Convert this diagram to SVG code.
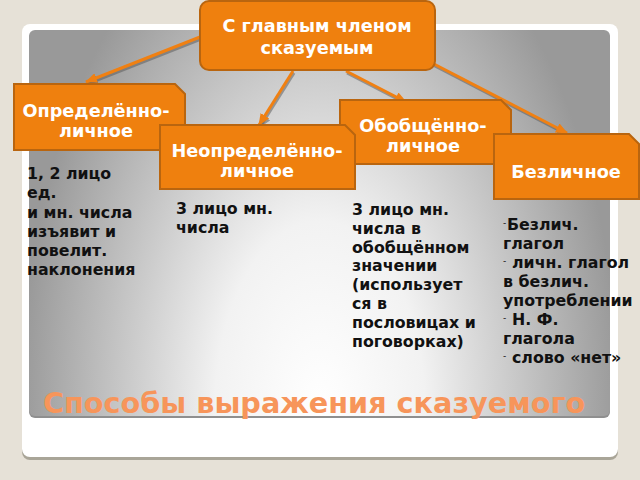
<svg xmlns="http://www.w3.org/2000/svg" width="640" height="480" viewBox="0 0 640 480">
<defs>
<radialGradient id="panelGrad" gradientUnits="userSpaceOnUse" cx="320" cy="410" r="300" gradientTransform="translate(320 410) scale(1 1.8) translate(-320 -410)">
<stop offset="0" stop-color="#ffffff"/>
<stop offset="0.35" stop-color="#f2f2f2"/>
<stop offset="1" stop-color="#999999"/>
</radialGradient>
<marker id="arrow" markerUnits="userSpaceOnUse" markerWidth="12" markerHeight="10" refX="11" refY="5" orient="auto">
<path d="M0,0 L12,5 L0,10 Z" fill="#f08012"/>
</marker>
<marker id="arrowShadow" markerUnits="userSpaceOnUse" markerWidth="12" markerHeight="10" refX="11" refY="5" orient="auto">
<path d="M0,0 L12,5 L0,10 Z" fill="#555" fill-opacity="0.5"/>
</marker>
</defs>
<style>
.node{fill:#ef800e;stroke:#b9650f;stroke-width:2}
.ntxt{font-family:"DejaVu Sans","Noto Sans",sans-serif;font-weight:bold;font-size:17.7px;fill:#ffffff;text-anchor:middle}
.body{font-family:"DejaVu Sans","Noto Sans",sans-serif;font-weight:bold;font-size:15.8px;fill:#111111}
.dash{font-family:"DejaVu Sans","Noto Sans",sans-serif;font-size:9px;fill:#111111}
.conn{stroke:#f08012;stroke-width:3;fill:none;marker-end:url(#arrow)}
.connS{stroke:#555;stroke-opacity:0.5;stroke-width:3;fill:none;marker-end:url(#arrowShadow)}
.title{font-family:"DejaVu Sans","Noto Sans",sans-serif;font-weight:bold;font-size:28.7px;fill:#f7955a}
</style>
<rect x="0" y="0" width="640" height="480" fill="#e6e1d7"/>
<rect x="22" y="27" width="596" height="433" rx="8" fill="#a9a598"/>
<rect x="22" y="24" width="596" height="433" rx="8" fill="#ffffff"/>
<rect x="29" y="32" width="581" height="386" rx="6" fill="#8f8f8f"/>
<rect x="29" y="30" width="581" height="386" rx="6" fill="url(#panelGrad)"/>

<g id="connectors">
<line class="connS" x1="201" y1="39" x2="87" y2="84"/>
<line class="connS" x1="294" y1="73" x2="260" y2="127"/>
<line class="connS" x1="347" y1="73" x2="407" y2="104"/>
<line class="connS" x1="433" y1="65" x2="568" y2="135"/>
<line class="conn" x1="200" y1="37" x2="86" y2="82"/>
<line class="conn" x1="293" y1="71" x2="259" y2="125"/>
<line class="conn" x1="346" y1="71" x2="406" y2="102"/>
<line class="conn" x1="432" y1="63" x2="567" y2="133"/>
</g>

<g id="node-top">
<rect class="node" x="200" y="1" width="235" height="69" rx="9"/>
<text class="ntxt" x="317" y="32">С главным членом</text>
<text class="ntxt" x="317" y="54">сказуемым</text>
</g>

<g id="node-opredelenno">
<path class="node" d="M14,84 H175 L185,94 V150 H14 Z"/>
<text class="ntxt" x="96" y="117">Определённо-</text>
<text class="ntxt" x="96" y="137">личное</text>
</g>

<g id="node-obobshchenno">
<path class="node" d="M340,100 H501 L511,110 V164 H340 Z"/>
<text class="ntxt" x="423" y="132">Обобщённо-</text>
<text class="ntxt" x="423" y="152">личное</text>
</g>

<g id="node-neopredelenno">
<path class="node" d="M160,125 H345 L355,135 V189 H160 Z"/>
<text class="ntxt" x="257" y="157">Неопределённо-</text>
<text class="ntxt" x="257" y="177">личное</text>
</g>

<g id="node-bezlichnoe">
<path class="node" d="M494,134 H629 L639,144 V199 H494 Z"/>
<text class="ntxt" x="566" y="178">Безличное</text>
</g>

<g id="text-opredelenno">
<text class="body" x="27" y="179">1, 2 лицо</text>
<text class="body" x="27" y="198">ед.</text>
<text class="body" x="27" y="218">и мн. числа</text>
<text class="body" x="27" y="237">изъявит и</text>
<text class="body" x="27" y="256">повелит.</text>
<text class="body" x="27" y="275">наклонения</text>
</g>

<g id="text-neopredelenno">
<text class="body" x="176" y="214">3 лицо мн.</text>
<text class="body" x="176" y="233">числа</text>
</g>

<g id="text-obobshchenno">
<text class="body" x="352" y="215">3 лицо мн.</text>
<text class="body" x="352" y="234">числа в</text>
<text class="body" x="352" y="253">обобщённом</text>
<text class="body" x="352" y="271">значении</text>
<text class="body" x="352" y="290">(использует</text>
<text class="body" x="352" y="309">ся в</text>
<text class="body" x="352" y="328">пословицах и</text>
<text class="body" x="352" y="347">поговорках)</text>
</g>

<g id="text-bezlichnoe">
<text class="dash" x="503" y="226">-</text>
<text class="body" x="507" y="230">Безлич.</text>
<text class="body" x="503" y="249">глагол</text>
<text class="dash" x="503" y="264">-</text>
<text class="body" x="512" y="268">личн. глагол</text>
<text class="body" x="503" y="287">в безлич.</text>
<text class="body" x="503" y="306">употреблении</text>
<text class="dash" x="503" y="321">-</text>
<text class="body" x="512" y="325">Н. Ф.</text>
<text class="body" x="503" y="344">глагола</text>
<text class="dash" x="503" y="359">-</text>
<text class="body" x="512" y="363">слово «нет»</text>
</g>

<text class="title" x="43" y="413">Способы выражения сказуемого</text>
</svg>
